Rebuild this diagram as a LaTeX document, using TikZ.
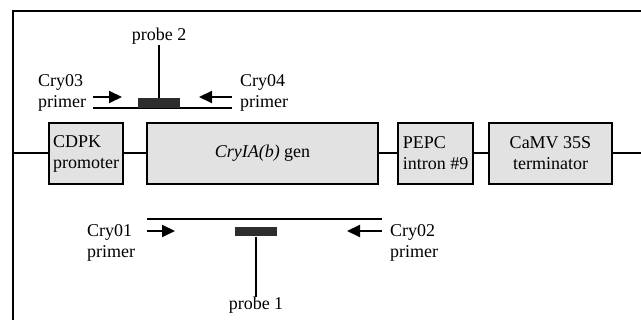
\documentclass[tikz,border=0pt]{standalone}
\usepackage{fontspec}
\setmainfont{Liberation Serif}
\usetikzlibrary{arrows.meta, positioning}
\definecolor{boxgrey}{RGB}{226,226,226}
\definecolor{probegrey}{RGB}{45,45,45}

\begin{document}
\begin{tikzpicture}[x=1pt, y=-1pt,
  block/.style={rectangle, draw=black, fill=boxgrey, line width=2pt, minimum height=61pt, inner sep=2pt, font=\fontsize{18}{21}\selectfont},
  probe/.style={rectangle, fill=probegrey, minimum width=42pt, minimum height=10pt, inner sep=0pt},
  lbl/.style={align=left, inner sep=0pt, font=\fontsize{18}{21}\selectfont},
  strand/.style={draw=black, line width=2pt},
  primer/.style={draw=black, line width=2pt, -{Triangle[length=13pt,width=12pt]}}]

  \useasboundingbox (0,0) rectangle (641,320);
  % frame
  \draw[strand] (641,11) -- (13,11) -- (13,320);

  % construct
  \node [block, minimum width=74pt, anchor=north west, align=left] (cdpk) at (48,122) {CDPK\\promoter};
  \node [block, minimum width=231pt, right=22pt of cdpk] (gen) {\textit{CryIA(b)} gen};
  \node [block, minimum width=75pt, right=18pt of gen, align=left] (pepc) {PEPC\\intron \#9};
  \node [block, minimum width=123pt, right=14pt of pepc, align=center] (camv) {CaMV 35S\\terminator};
  \coordinate [left=35pt of cdpk.west] (bbl);
  \coordinate [right=36pt of camv.east] (bbr);
  \draw[strand] (bbl) -- (cdpk) (cdpk) -- (gen) (gen) -- (pepc) (pepc) -- (camv) (camv) -- (bbr);

  % probe 2 with Cry03 / Cry04
  \coordinate (t1) at (93,108);
  \coordinate (t2) at (232,108);
  \draw[strand] (t1) -- (t2);
  \node [probe, anchor=south west] (probeB) at (138,108) {};
  \node [lbl, above=53pt of probeB] (probeBtxt) {probe 2};
  \draw[strand] (probeB) -- (probeBtxt);
  \coordinate (c3a) at (93,97);
  \coordinate (c3b) at (122,97);
  \coordinate (c4a) at (232,97);
  \coordinate (c4b) at (199,97);
  \draw[primer] (c3a) -- (c3b);
  \draw[primer] (c4a) -- (c4b);
  \node [lbl, anchor=west] (cry03) at (38,93) {Cry03\\primer};
  \node [lbl, anchor=west] (cry04) at (240,93) {Cry04\\primer};

  % probe 1 with Cry01 / Cry02
  \coordinate (b1) at (147,219);
  \coordinate (b2) at (382,219);
  \draw[strand] (b1) -- (b2);
  \node [probe, minimum height=9pt] (probeA) at (256,232) {};
  \node [lbl, below=60pt of probeA] (probeAtxt) {probe 1};
  \draw[strand] (probeA) -- (probeAtxt);
  \coordinate (c1a) at (147,231);
  \coordinate (c1b) at (175,231);
  \coordinate (c2a) at (382,231);
  \coordinate (c2b) at (347,231);
  \draw[primer] (c1a) -- (c1b);
  \draw[primer] (c2a) -- (c2b);
  \node [lbl, anchor=west] (cry01) at (87,243) {Cry01\\primer};
  \node [lbl, anchor=west] (cry02) at (390,243) {Cry02\\primer};

\end{tikzpicture}
\end{document}
